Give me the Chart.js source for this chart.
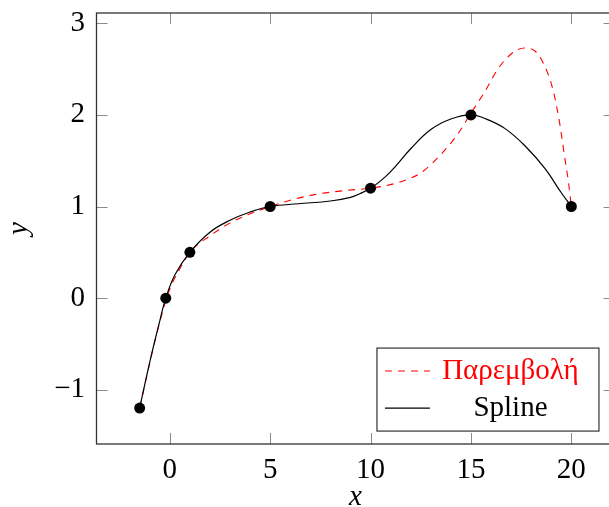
<!DOCTYPE html>
<html>
<head>
<meta charset="utf-8">
<script src="https://cdn.jsdelivr.net/npm/chart.js@4.4.0/dist/chart.umd.min.js"></script>
<style>
html, body { margin: 0; padding: 0; overflow: hidden; background: #fff; }
#wrap { width: 620px; height: 507px; }
</style>
</head>
<body>
<div id="wrap"><canvas id="chart0" width="620" height="507"></canvas></div>
<script>
// marked data points
const ptsX = [-1.5, -0.2, 1, 5, 10, 15, 20];
const ptsY = [-1.2, 0, 0.5, 1, 1.2, 2, 1];

// solid spline
const splineX = [-1.5, -1.0, -0.5, -0.2, 0.27, 1, 2, 3, 4, 5, 6.4, 8, 9, 9.5, 10, 10.5, 11, 12, 13, 14, 15, 15.7, 16.7, 17.7, 18.7, 19.5, 20];
const splineY = [-1.2, -0.7, -0.25, 0, 0.26, 0.5, 0.72, 0.85, 0.94, 1.0, 1.03, 1.06, 1.1, 1.143, 1.2, 1.28, 1.38, 1.63, 1.84, 1.955, 2.0, 1.96, 1.85, 1.66, 1.41, 1.15, 1.0];

// dashed interpolation curve
const fitX = [-1.5, -1.0, -0.5, 0, 0.5, 1, 2, 3, 4, 5, 5.7, 7.2, 8.86, 10, 11.35, 12.52, 13.51, 14.34, 15, 15.68, 16.34, 17.0, 17.67, 18.17, 18.66, 19.08, 19.41, 19.66, 19.86, 20];
const fitY = [-1.2, -0.71, -0.26, 0.1, 0.32, 0.5, 0.68, 0.82, 0.92, 1.0, 1.05, 1.13, 1.177, 1.2, 1.26, 1.37, 1.57, 1.79, 2.02, 2.25, 2.5, 2.665, 2.73, 2.7, 2.54, 2.28, 1.92, 1.55, 1.26, 1.0];

const xTicks = [0, 5, 10, 15, 20];
const yTicks = [-1, 0, 1, 2, 3];
const xRange = [-3.65, 22.15];
const yRange = [-1.592, 3.112];

const seriesNames = ['Παρεμβολή', 'Spline'];

const FONT = "'Liberation Serif', 'DejaVu Serif', serif";
const TICK_LEN = 11;

function fmt(v) {
    return v < 0 ? '\u2212' + Math.abs(v) : String(v);
}

// inward ticks on all four sides, frame and the legend box
const frame = {
    id: 'frame',
    afterDraw(chart) {
        const ctx = chart.ctx;
        const a = chart.chartArea;
        const sx = chart.scales.x, sy = chart.scales.y;
        ctx.save();
        ctx.strokeStyle = '#8c8c8c';
        ctx.lineWidth = 1;
        ctx.beginPath();
        xTicks.forEach(v => {
            const px = Math.round(sx.getPixelForValue(v)) + 0.5;
            ctx.moveTo(px, a.bottom); ctx.lineTo(px, a.bottom - TICK_LEN);
            ctx.moveTo(px, a.top); ctx.lineTo(px, a.top + TICK_LEN);
        });
        yTicks.forEach(v => {
            const py = Math.round(sy.getPixelForValue(v)) + 0.5;
            ctx.moveTo(a.left, py); ctx.lineTo(a.left + TICK_LEN, py);
            ctx.moveTo(a.right, py); ctx.lineTo(a.right - TICK_LEN, py);
        });
        ctx.stroke();

        ctx.strokeStyle = '#333';
        ctx.lineWidth = 1.3;
        ctx.strokeRect(a.left, a.top, a.right - a.left, a.bottom - a.top);

        // legend, south east corner
        const w = a.right - a.left, h = a.bottom - a.top;
        const bw = 222, bh = 83;
        const bx = a.left + 0.97 * w - bw;
        const by = a.bottom - 0.03 * h - bh;
        ctx.fillStyle = '#fff';
        ctx.fillRect(bx, by, bw, bh);
        ctx.strokeStyle = '#333';
        ctx.lineWidth = 1.2;
        ctx.strokeRect(bx, by, bw, bh);

        const ds = chart.data.datasets.filter(d => d.label);
        const rows = [by + 23, by + 60];
        ctx.font = '29px ' + FONT;
        ctx.textAlign = 'center';
        ctx.textBaseline = 'middle';
        ds.forEach((d, i) => {
            ctx.beginPath();
            ctx.strokeStyle = d.borderColor;
            ctx.lineWidth = d.borderWidth;
            ctx.setLineDash(d.borderDash || []);
            ctx.moveTo(bx + 8, rows[i]);
            ctx.lineTo(bx + 53, rows[i]);
            ctx.stroke();
            ctx.setLineDash([]);
            ctx.fillStyle = d.borderColor;
            ctx.fillText(d.label, bx + 133.5, rows[i]);
        });
        ctx.restore();
    }
};

const chart = new Chart(document.getElementById('chart0'), {
    type: 'scatter',
    data: {
        datasets: [
            {
                label: seriesNames[0],
                data: fitX.map((x, i) => ({x: x, y: fitY[i]})),
                showLine: true,
                borderColor: '#ff0000',
                borderWidth: 1.1,
                borderDash: [7, 6],
                cubicInterpolationMode: 'monotone',
                pointRadius: 0,
                order: 3
            },
            {
                label: seriesNames[1],
                data: splineX.map((x, i) => ({x: x, y: splineY[i]})),
                showLine: true,
                borderColor: '#000000',
                borderWidth: 1.2,
                tension: 0.4,
                pointRadius: 0,
                order: 2
            },
            {
                label: '',
                data: ptsX.map((x, i) => ({x: x, y: ptsY[i]})),
                showLine: false,
                pointRadius: 5.5,
                pointBackgroundColor: '#000',
                pointBorderWidth: 0,
                order: 1
            }
        ]
    },
    options: {
        responsive: false,
        animation: false,
        layout: { padding: { top: 13, right: 5, left: 0, bottom: 0 } },
        plugins: { legend: { display: false }, tooltip: { enabled: false } },
        scales: {
            x: {
                type: 'linear',
                min: xRange[0], max: xRange[1],
                grid: { display: false, drawTicks: false },
                border: { display: false },
                afterBuildTicks: s => { s.ticks = xTicks.map(v => ({value: v})); },
                afterFit: s => { s.height = 63; s.paddingLeft = 0; s.paddingRight = 0; },
                ticks: {
                    padding: 9,
                    color: '#000',
                    font: { family: FONT, size: 29 },
                    maxRotation: 0,
                    callback: v => fmt(v)
                },
                title: {
                    display: true, text: 'x', color: '#000',
                    font: { family: FONT, size: 29, style: 'italic', lineHeight: 1 },
                    padding: { top: 0, bottom: -5 }
                }
            },
            y: {
                type: 'linear',
                min: yRange[0], max: yRange[1],
                grid: { display: false, drawTicks: false },
                border: { display: false },
                afterBuildTicks: s => { s.ticks = yTicks.map(v => ({value: v})); },
                afterFit: s => { s.width = 96.5; s.paddingTop = 0; s.paddingBottom = 0; },
                ticks: {
                    padding: 11.5,
                    color: '#000',
                    font: { family: FONT, size: 29 },
                    callback: v => fmt(v)
                },
                title: {
                    display: true, text: 'y', color: '#000',
                    font: { family: FONT, size: 29, style: 'italic', lineHeight: 1 },
                    padding: { top: 5, bottom: 0 }
                }
            }
        }
    },
    plugins: [frame]
});
</script>
</body>
</html>
